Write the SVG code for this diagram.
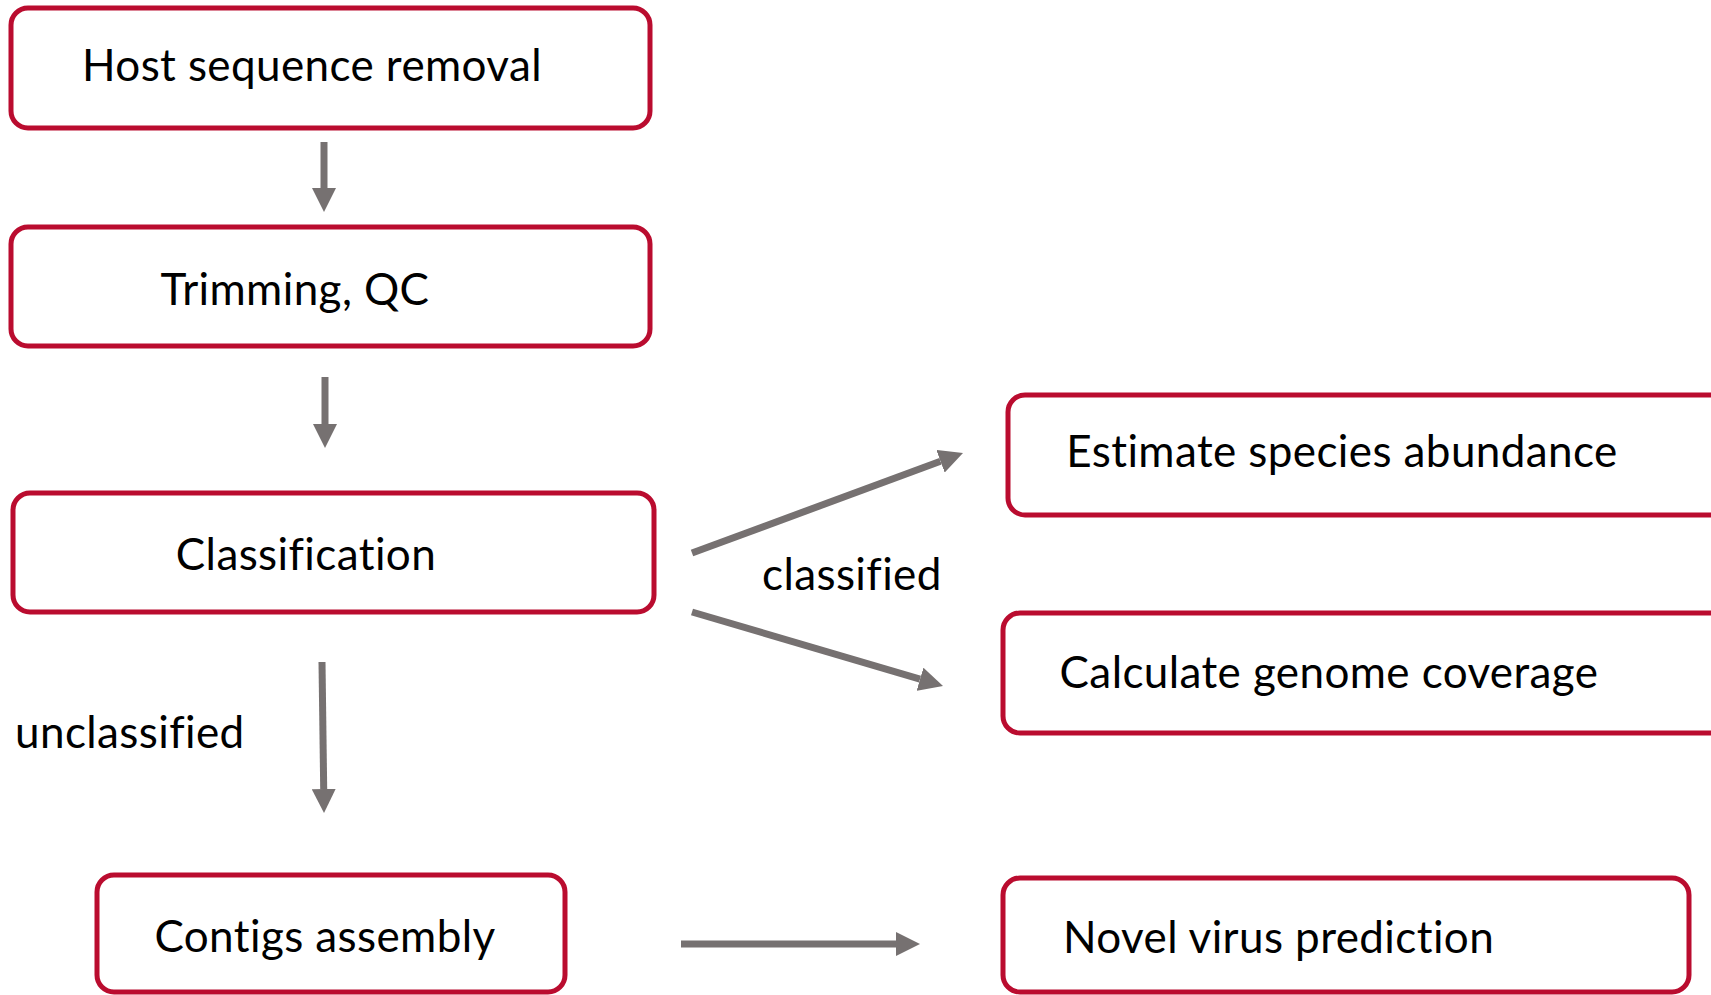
<svg xmlns="http://www.w3.org/2000/svg" width="1711" height="995" viewBox="0 0 1711 995">
  <style>
    .box { fill: #ffffff; stroke: #BA0C2F; stroke-width: 5; }
    .lbl { font-family: Lato, "Open Sans", "Liberation Sans", sans-serif; font-size: 44px; letter-spacing: 0.4px; fill: #000000; font-variant-ligatures: none; }
    .mid { text-anchor: middle; }
    .conn { stroke: #767171; stroke-width: 7; fill: none; marker-end: url(#head); }
  </style>
  <defs>
    <marker id="head" markerUnits="userSpaceOnUse" markerWidth="24" markerHeight="24" viewBox="0 0 24 24" refX="0" refY="12" orient="auto">
      <path d="M0,0 L24,12 L0,24 z" fill="#767171"/>
    </marker>
  </defs>
  <rect width="1711" height="995" fill="#ffffff"/>

  <g id="connectors">
    <line class="conn" x1="324" y1="142" x2="324" y2="188"/>
    <line class="conn" x1="325" y1="377" x2="325" y2="424"/>
    <line class="conn" x1="322" y1="662" x2="323.7" y2="789"/>
    <line class="conn" x1="692" y1="553" x2="940.5" y2="461.3"/>
    <line class="conn" x1="692" y1="612" x2="920" y2="679.2"/>
    <line class="conn" x1="681" y1="944" x2="896" y2="944"/>
    <text class="lbl" x="762" y="590">classified</text>
    <text class="lbl" x="15" y="748">unclassified</text>
  </g>

  <g id="host-removal">
    <rect class="box" x="11" y="8" width="639" height="120" rx="17"/>
    <text class="lbl mid" x="312" y="81">Host sequence removal</text>
  </g>
  <g id="trimming-qc">
    <rect class="box" x="11" y="227" width="639" height="119" rx="17"/>
    <text class="lbl mid" x="295" y="305">Trimming, QC</text>
  </g>
  <g id="classification">
    <rect class="box" x="13" y="493" width="641" height="119" rx="17"/>
    <text class="lbl mid" x="306" y="570">Classification</text>
  </g>
  <g id="species-abundance">
    <rect class="box" x="1008" y="395" width="730" height="120" rx="17"/>
    <text class="lbl mid" x="1342" y="467">Estimate species abundance</text>
  </g>
  <g id="genome-coverage">
    <rect class="box" x="1003" y="613" width="735" height="120" rx="17"/>
    <text class="lbl mid" x="1329" y="688">Calculate genome coverage</text>
  </g>
  <g id="contigs-assembly">
    <rect class="box" x="97" y="875" width="468" height="117" rx="17"/>
    <text class="lbl mid" x="325" y="952">Contigs assembly</text>
  </g>
  <g id="novel-virus">
    <rect class="box" x="1003" y="878" width="686" height="114" rx="17"/>
    <text class="lbl" x="1063" y="953">Novel virus prediction</text>
  </g>
</svg>
